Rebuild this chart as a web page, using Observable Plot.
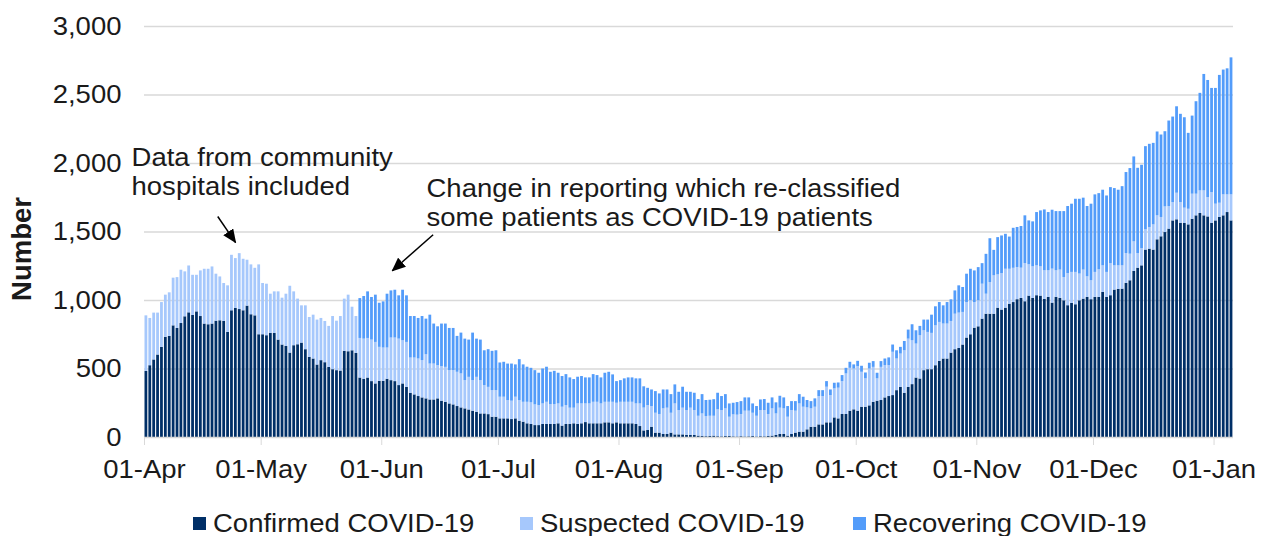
<!DOCTYPE html>
<html><head><meta charset="utf-8">
<script src="https://cdn.jsdelivr.net/npm/d3@7"></script>
<script src="https://cdn.jsdelivr.net/npm/@observablehq/plot@0.6"></script>
<style>
html,body{margin:0;padding:0;background:#fff;}
body{position:relative;width:1266px;height:536px;overflow:hidden;font-family:"Liberation Sans",Arial,sans-serif;}
.item{position:absolute;top:507px;height:32px;display:flex;align-items:center;font-size:25px;color:#1a1a1a;white-space:nowrap;}
.sw{width:13px;height:13px;margin-right:7px;flex:none;}
.lt{display:inline-block;line-height:1;transform:scaleX(1.1);transform-origin:left center;}
</style></head><body><div id="chart"></div><div id="legend"></div>
<script>
const startDate = "2020-04-01";
const confirmed = [483,524,566,602,658,731,738,815,796,832,881,910,891,917,883,828,823,828,849,852,847,767,925,942,934,925,959,896,888,750,750,743,760,760,711,675,665,616,670,677,689,641,585,573,529,561,546,512,495,488,485,629,626,633,614,
434,425,434,408,391,410,410,425,415,408,379,391,366,323,311,299,289,282,274,274,282,265,257,245,238,226,216,209,201,192,184,172,172,167,148,148,136,136,136,131,
136,119,112,100,95,87,87,95,95,95,95,100,83,95,95,100,95,100,109,100,100,100,100,107,107,100,107,100,100,100,100,95,80,48,
51,75,32,32,22,22,32,19,19,19,15,15,15,10,8,6,8,10,6,5,7,8,5,4,6,4,5,7,4,6,5,8,
10,15,22,22,10,22,32,39,39,56,75,75,92,92,107,107,143,136,168,168,192,202,192,221,221,231,257,265,270,289,299,306,
342,366,323,366,386,434,427,488,495,495,524,556,573,573,616,641,650,675,726,750,798,808,864,900,900,900,944,930,944,973,985,1006,
1015,991,1032,1015,1035,1032,1008,1023,981,1023,1015,998,962,979,969,998,1010,1023,1006,1023,1023,1059,1023,1035,1076,1081,1083,1125,1144,1212,1236,1253,
1368,1375,1368,1443,1465,1496,1521,1581,1589,1564,1562,1552,1593,1618,1635,1618,1610,1564,1581,1606,1618,1642,1581];
const suspected = [405,345,342,306,327,308,318,348,371,389,328,342,293,267,333,400,405,417,343,320,277,340,405,364,408,376,335,364,347,510,374,376,286,303,352,342,381,488,393,333,272,320,291,320,328,308,301,299,388,361,398,381,413,318,269,
289,293,289,303,303,248,243,228,311,318,339,315,328,257,269,274,272,322,262,262,242,252,255,243,250,250,248,206,238,223,255,243,207,199,194,194,158,158,133,134,
158,151,145,157,158,151,146,150,162,145,145,145,138,138,119,114,150,145,136,145,157,157,145,150,150,157,143,157,157,157,157,150,165,167,
182,151,145,136,187,192,145,226,178,195,182,199,182,145,164,147,147,145,196,192,202,140,160,159,162,188,187,170,151,191,192,160,
199,157,192,187,138,175,160,206,182,160,134,146,207,207,260,199,212,224,240,296,313,298,325,255,207,269,255,163,242,236,226,316,
231,243,310,352,320,248,316,291,272,265,291,284,255,255,231,259,258,238,259,248,187,190,255,146,231,280,243,267,284,255,250,235,
221,279,229,231,218,214,209,194,248,194,207,170,235,226,236,195,212,150,138,182,201,194,182,235,177,172,170,218,194,216,107,126,
148,158,184,175,141,187,165,134,194,151,112,114,183,158,165,182,141,224,122,104,153,129,190];
const recovering = [0,0,0,0,0,0,0,0,0,0,0,0,0,0,0,0,0,0,0,0,0,0,0,0,0,0,0,0,0,0,0,0,0,0,0,0,0,0,0,0,0,0,0,0,0,0,0,0,0,0,0,0,0,0,0,
291,311,340,311,345,322,337,393,344,349,316,369,340,303,303,296,322,260,357,292,284,311,316,308,308,262,298,303,272,347,279,296,254,275,287,291,250,255,267,271,
236,298,273,256,252,250,236,255,256,236,243,224,224,226,221,209,195,200,190,190,202,195,190,212,219,200,158,158,171,178,178,183,183,155,
126,121,158,150,138,133,136,139,133,153,133,116,126,122,141,117,117,121,121,102,104,97,85,92,94,97,97,68,71,77,80,82,
80,81,87,80,78,65,70,68,73,54,53,61,43,43,41,41,41,38,44,41,44,30,39,44,43,42,42,41,42,48,56,53,
60,49,68,66,117,97,68,78,90,133,139,145,133,157,158,170,199,182,207,230,231,242,150,291,320,186,272,274,255,235,292,292,
304,348,320,328,389,408,444,425,430,432,427,481,489,498,534,546,525,513,559,566,556,552,558,554,564,552,578,591,625,620,622,608,
607,607,595,612,602,549,624,624,631,644,660,554,570,675,712,850,855,760,845,933,911,920,1000];
const seriesNames = ["Confirmed COVID-19", "Suspected COVID-19", "Recovering COVID-19"];
const seriesColors = ["#002f67", "#a6c8fc", "#539cfa"];
const monthTicks = ["2020-04-01","2020-05-01","2020-06-01","2020-07-01","2020-08-01","2020-09-01","2020-10-01","2020-11-01","2020-12-01","2021-01-01"];
const yTicks = [0, 500, 1000, 1500, 2000, 2500, 3000];
const yLabel = "Number";
const annotations = [
  {date: "2020-03-28T16:00:00Z", value: 2137, text: "Data from community\nhospitals included"},
  {date: "2020-06-12T12:00:00Z", value: 1907, text: "Change in reporting which re-classified\nsome patients as COVID-19 patients"}
];
const arrows = [
  {x1: "2020-04-19T20:00:00Z", y1: 1613, x2: "2020-04-24T10:00:00Z", y2: 1423},
  {x1: "2020-06-14T05:00:00Z", y1: 1480, x2: "2020-06-03T17:00:00Z", y2: 1217}
];

const day0 = new Date(startDate + "T00:00:00Z");
const rows = [];
confirmed.forEach((_, i) => {
  const date = d3.utcDay.offset(day0, i);
  rows.push({date, series: seriesNames[0], value: confirmed[i]});
  rows.push({date, series: seriesNames[1], value: suspected[i]});
  rows.push({date, series: seriesNames[2], value: recovering[i]});
});
const annData = annotations.map(a => ({...a, date: new Date(a.date)}));
const arrData = arrows.map(a => ({...a, x1: new Date(a.x1), x2: new Date(a.x2)}));
const tickDates = monthTicks.map(s => new Date(s + "T00:00:00Z"));
const font = '"Liberation Sans", Arial, sans-serif';

const chart = Plot.plot({
  width: 1266, height: 500,
  marginLeft: 144, marginRight: 33, marginTop: 26, marginBottom: 63,
  style: {fontFamily: font, fontSize: "25px", color: "#1a1a1a", background: "#fff"},
  x: {type: "utc", domain: [day0, d3.utcDay.offset(day0, confirmed.length)]},
  y: {domain: [0, 3000]},
  color: {domain: seriesNames, range: seriesColors},
  marks: [
    Plot.gridY(yTicks.filter(v => v > 0), {stroke: "#d9d9d9", strokeOpacity: 1, strokeWidth: 1.3}),
    Plot.rectY(rows, {x: "date", interval: "day", y: "value", fill: "series", insetLeft: 0.5, insetRight: 0.6}),
    Plot.ruleY([0], {stroke: "#d9d9d9", strokeWidth: 1.3}),
    Plot.axisX(tickDates, {tickSize: 8, tickPadding: 15, stroke: "#d9d9d9", tickFormat: d3.utcFormat("%d-%b"), label: null}),
    Plot.axisY(yTicks, {tickSize: 0, tickPadding: 23, tickFormat: d3.format(","), label: null}),
    Plot.text([yLabel], {frameAnchor: "left", textAnchor: "middle", dx: -122, dy: 17, rotate: -90, fontWeight: "bold", fontSize: 27.5, fill: "#1a1a1a"}),
    Plot.text(annData, {x: "date", y: "value", text: "text", textAnchor: "start", lineAnchor: "top", lineHeight: 1.17, fill: "#1a1a1a"}),
    Plot.link(arrData, {x1: "x1", y1: "y1", x2: "x2", y2: "y2", stroke: "#000", strokeWidth: 1.5})
  ]
});
document.getElementById("chart").appendChild(chart);

// widen regular text horizontally like the reference (glyphs are stretched ~10%)
const K = 1.1;
chart.querySelectorAll("text").forEach(t => {
  if (t.closest('[font-weight="bold"]')) return;
  const spans = t.querySelectorAll("tspan");
  const targets = spans.length ? Array.from(spans) : [t];
  targets.forEach(el => {
    const L = el.getComputedTextLength();
    if (L > 0) {
      el.setAttribute("textLength", (L * K).toFixed(2));
      el.setAttribute("lengthAdjust", "spacingAndGlyphs");
    }
  });
});

// filled arrowheads on annotation arrows
const svgNS = "http://www.w3.org/2000/svg";
const defs = document.createElementNS(svgNS, "defs");
const marker = document.createElementNS(svgNS, "marker");
marker.setAttribute("id", "ahead");
marker.setAttribute("viewBox", "0 0 14 12");
marker.setAttribute("refX", "13");
marker.setAttribute("refY", "6");
marker.setAttribute("markerWidth", "14");
marker.setAttribute("markerHeight", "12");
marker.setAttribute("markerUnits", "userSpaceOnUse");
marker.setAttribute("orient", "auto");
const mp = document.createElementNS(svgNS, "path");
mp.setAttribute("d", "M0,0L14,6L0,12z");
mp.setAttribute("fill", "#000");
marker.appendChild(mp);
defs.appendChild(marker);
chart.insertBefore(defs, chart.firstChild);
chart.querySelectorAll('g[aria-label="link"] path').forEach(p => p.setAttribute("marker-end", "url(#ahead)"));

// legend below the chart
const legendLeft = [193, 520, 853];
const legend = document.getElementById("legend");
seriesNames.forEach((name, i) => {
  const item = document.createElement("div");
  item.className = "item";
  item.style.left = legendLeft[i] + "px";
  const sw = document.createElement("span");
  sw.className = "sw";
  sw.style.background = seriesColors[i];
  const t = document.createElement("span");
  t.className = "lt";
  t.textContent = name;
  item.appendChild(sw); item.appendChild(t);
  legend.appendChild(item);
});
</script></body></html>
